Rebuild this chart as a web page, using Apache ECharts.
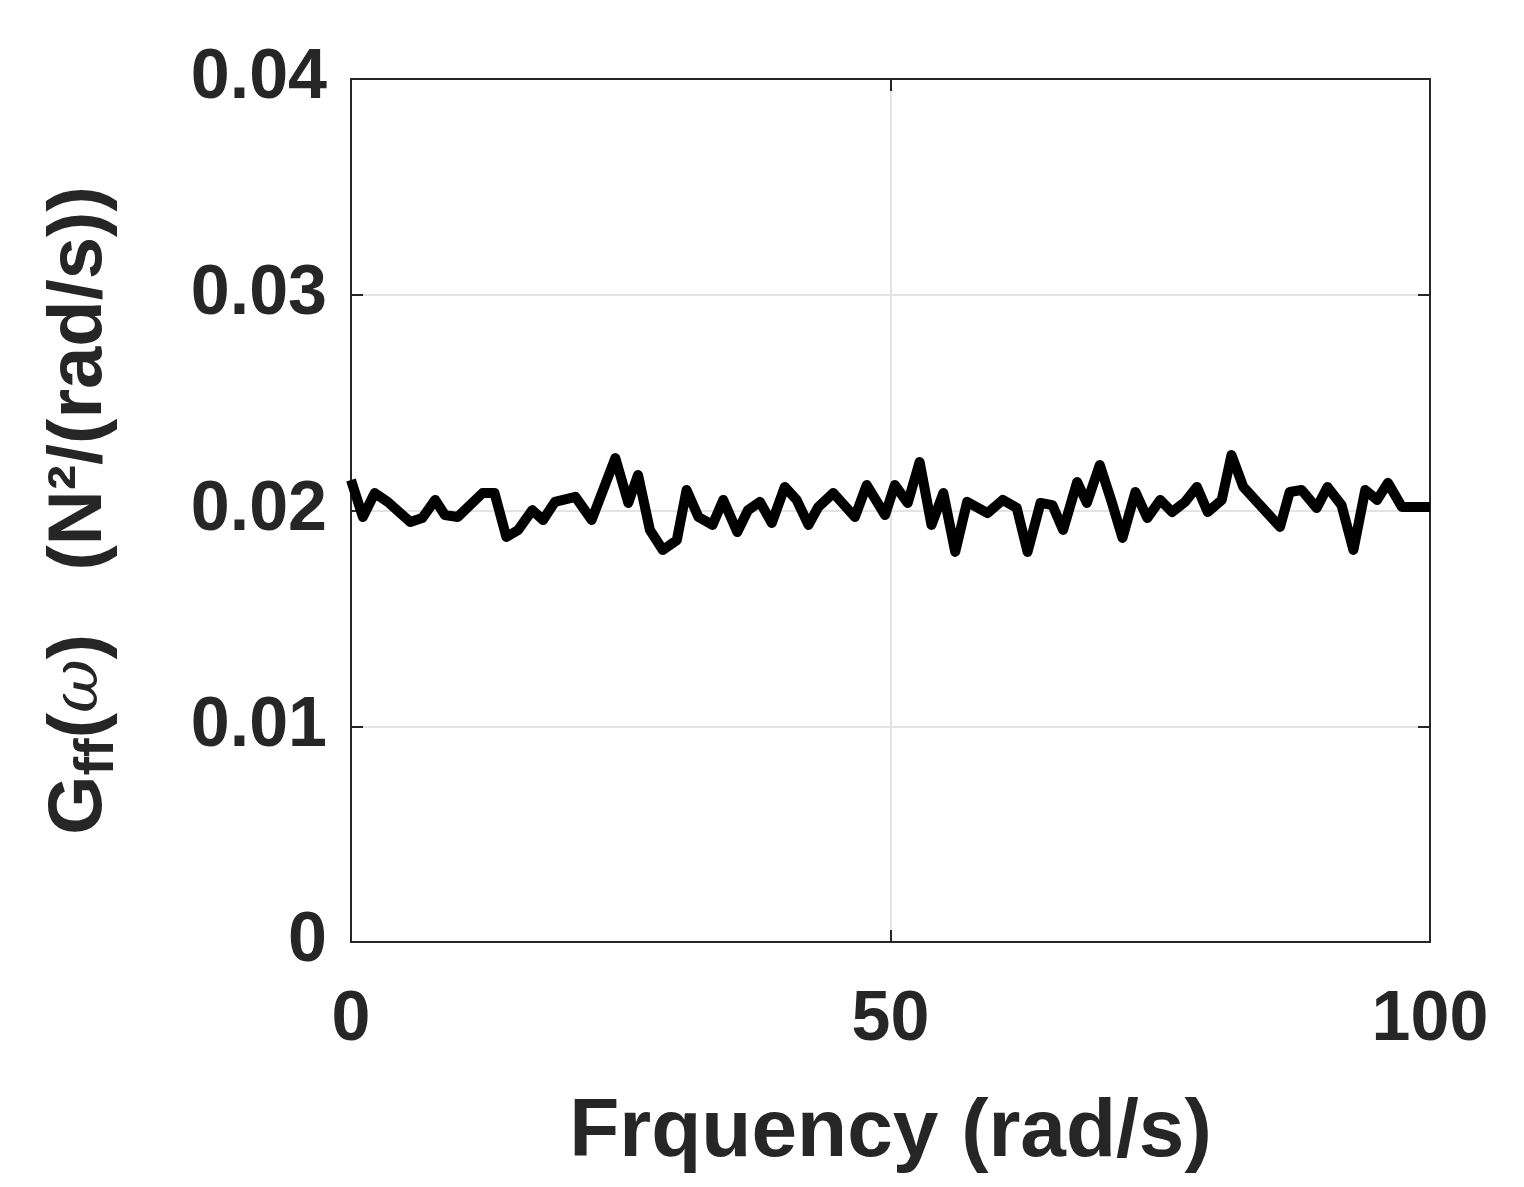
<!DOCTYPE html>
<html>
<head>
<meta charset="utf-8">
<script src="https://cdn.jsdelivr.net/npm/echarts@6/dist/echarts.min.js"></script>
<style>html,body{margin:0;padding:0;background:#fff}#chart{width:1524px;height:1187px}</style>
</head>
<body>
<div id="chart"></div>
<script>
// frequency (rad/s)
const freq = [0, 1.1, 2.2, 3.4, 5.5, 6.6, 7.8, 8.7, 9.9, 12.2, 13.3, 14.4, 15.5, 16.8, 17.8, 18.9, 20.8, 22.3, 24.5, 25.7,
  26.6, 27.7, 28.9, 30.2, 31.1, 32.2, 33.5, 34.5, 35.8, 36.8, 37.9, 39.0, 40.2, 41.3, 42.4, 43.3, 44.7, 46.7, 47.8,
  49.5, 50.4, 51.6, 52.7, 53.8, 54.9, 56.0, 57.1, 59.0, 60.4, 61.7, 62.7, 63.9, 65.0, 66.0, 67.3, 68.2, 69.4, 70.5,
  71.5, 72.7, 73.8, 75.0, 76.1, 77.3, 78.4, 79.4, 80.7, 81.6, 82.7, 83.8, 86.1, 87.0, 88.1, 89.5, 90.5, 91.8, 92.9,
  94.0, 95.1, 96.1, 97.4, 100];
// PSD values
const psd = [0.02141, 0.01970, 0.02081, 0.02040, 0.01947, 0.01965, 0.02049, 0.01979, 0.01970, 0.02081, 0.02081, 0.01877,
  0.01910, 0.02002, 0.01956, 0.02040, 0.02063, 0.01956, 0.02243, 0.02035, 0.02165, 0.01910, 0.01817, 0.01863, 0.02095,
  0.01970, 0.01933, 0.02049, 0.01900, 0.02002, 0.02040, 0.01942, 0.02109, 0.02049, 0.01933, 0.02016, 0.02081, 0.01970,
  0.02118,
  0.01979, 0.02118, 0.02035, 0.02225, 0.01933, 0.02081, 0.01808, 0.02040, 0.01988, 0.02049, 0.02012, 0.01808, 0.02035,
  0.02025, 0.01910, 0.02132, 0.02035, 0.02211, 0.02040, 0.01873, 0.02086, 0.01965, 0.02049, 0.01993, 0.02040, 0.02109,
  0.01993, 0.02049, 0.02257, 0.02109, 0.02049, 0.01924, 0.02086, 0.02095, 0.02012, 0.02109, 0.02025, 0.01817, 0.02095,
  0.02049, 0.02128, 0.02016, 0.02016];

const font = 'Liberation Sans, Arial, sans-serif';
const textCol = '#262626';
const chart = echarts.init(document.getElementById('chart'));

const boxAxis = {
  axisLine: { show: true, onZero: false, lineStyle: { color: '#262626', width: 2 } },
  axisTick: { show: true, inside: true, length: 12, lineStyle: { color: '#262626', width: 2 } },
  axisLabel: { show: false },
  splitLine: { show: false }
};

chart.setOption({
  animation: false,
  grid: { left: 351, right: 94, top: 79, bottom: 245 },
  xAxis: [{
    type: 'value', min: 0, max: 100, interval: 50,
    name: 'Frquency (rad/s)', nameLocation: 'middle', nameGap: 150,
    nameTextStyle: { fontFamily: font, fontWeight: 'bold', fontSize: 82, color: textCol },
    axisLine: { show: true, onZero: false, lineStyle: { color: '#262626', width: 2 } },
    axisTick: { show: true, inside: true, length: 12, lineStyle: { color: '#262626', width: 2 } },
    axisLabel: { fontFamily: font, fontWeight: 'bold', fontSize: 70, color: textCol, margin: 44 },
    splitLine: { show: true, lineStyle: { color: '#e3e3e3', width: 2 } }
  }, Object.assign({ type: 'value', min: 0, max: 100, interval: 50, position: 'top' }, boxAxis)],
  yAxis: [{
    type: 'value', min: 0, max: 0.04, interval: 0.01,
    name: '{a|G}{sub|ff}{a|(}{i|ω}{a|)   (N²/(rad/s))}', nameLocation: 'middle', nameGap: 225,
    nameTextStyle: {
      color: textCol,
      rich: {
        a: { fontFamily: font, fontWeight: 'bold', fontSize: 76, color: textCol },
        i: { fontFamily: 'DejaVu Serif, serif', fontStyle: 'italic', fontSize: 66, color: textCol },
        sub: { fontFamily: font, fontWeight: 'bold', fontSize: 56, color: textCol, verticalAlign: 'bottom', padding: [36, 0, 0, 0] }
      }
    },
    axisLine: { show: true, onZero: false, lineStyle: { color: '#262626', width: 2 } },
    axisTick: { show: true, inside: true, length: 12, lineStyle: { color: '#262626', width: 2 } },
    axisLabel: {
      fontFamily: font, fontWeight: 'bold', fontSize: 70, color: textCol, margin: 24,
      formatter: v => v === 0 ? '0' : v.toFixed(2)
    },
    splitLine: { show: true, lineStyle: { color: '#e3e3e3', width: 2 } }
  }, Object.assign({ type: 'value', min: 0, max: 0.04, interval: 0.01, position: 'right' }, boxAxis)],
  series: [{
    type: 'line',
    data: freq.map((f, i) => [f, psd[i]]),
    showSymbol: false,
    lineStyle: { color: '#000', width: 10, join: 'round' }
  }]
});
</script>
</body>
</html>
